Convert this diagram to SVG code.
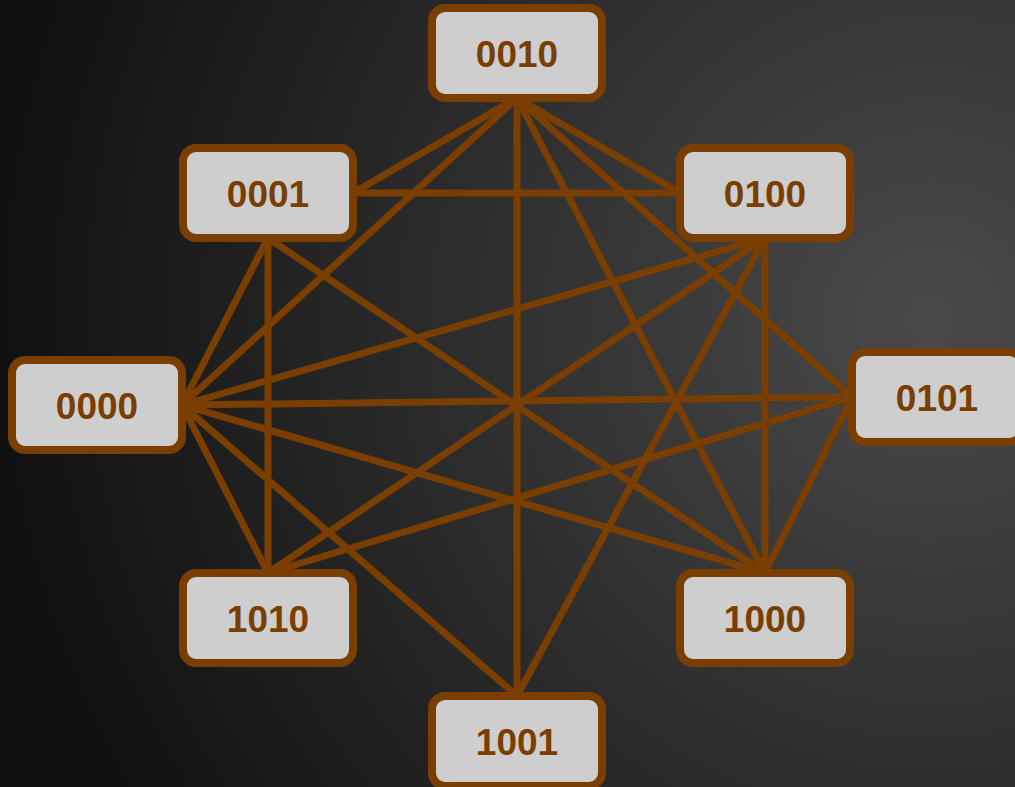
<svg xmlns="http://www.w3.org/2000/svg" width="1015" height="787" viewBox="0 0 1015 787">
  <defs>
    <radialGradient id="bg" gradientUnits="userSpaceOnUse" cx="930" cy="320" r="950">
      <stop offset="0" stop-color="#4a4a4a"/>
      <stop offset="1" stop-color="#101010"/>
    </radialGradient>
  </defs>
  <style>
    .edge { stroke: #7a3f00; stroke-width: 7; fill: none; }
    .box { fill: #cecece; stroke: #7a3f00; stroke-width: 8; }
    .label { font-family: "Liberation Sans", Arial, sans-serif; font-weight: bold; font-size: 37px; fill: #7a3f00; text-anchor: middle; }
  </style>
  <rect x="0" y="0" width="1015" height="787" fill="url(#bg)"/>
  <g id="connectors">
    <line class="edge" x1="517" y1="98" x2="353" y2="193"/>
    <line class="edge" x1="353" y1="193" x2="680" y2="193"/>
    <line class="edge" x1="517" y1="98" x2="182" y2="405"/>
    <line class="edge" x1="517" y1="98" x2="517" y2="696"/>
    <line class="edge" x1="517" y1="98" x2="680" y2="193"/>
    <line class="edge" x1="517" y1="98" x2="852" y2="397"/>
    <line class="edge" x1="517" y1="98" x2="765" y2="573"/>
    <line class="edge" x1="268" y1="238" x2="268" y2="573"/>
    <line class="edge" x1="268" y1="238" x2="182" y2="405"/>
    <line class="edge" x1="268" y1="238" x2="765" y2="573"/>
    <line class="edge" x1="765" y1="238" x2="182" y2="405"/>
    <line class="edge" x1="765" y1="238" x2="268" y2="573"/>
    <line class="edge" x1="765" y1="238" x2="517" y2="696"/>
    <line class="edge" x1="765" y1="238" x2="765" y2="573"/>
    <line class="edge" x1="182" y1="405" x2="852" y2="397"/>
    <line class="edge" x1="182" y1="405" x2="765" y2="573"/>
    <line class="edge" x1="182" y1="405" x2="268" y2="573"/>
    <line class="edge" x1="182" y1="405" x2="517" y2="696"/>
    <line class="edge" x1="852" y1="397" x2="268" y2="573"/>
    <line class="edge" x1="852" y1="397" x2="765" y2="573"/>
  </g>
  <g id="n0010">
    <rect class="box" x="432" y="8" width="170" height="90" rx="13"/>
    <text class="label" x="517" y="67">0010</text>
  </g>
  <g id="n0001">
    <rect class="box" x="183" y="148" width="170" height="90" rx="13"/>
    <text class="label" x="268" y="207">0001</text>
  </g>
  <g id="n0100">
    <rect class="box" x="680" y="148" width="170" height="90" rx="13"/>
    <text class="label" x="765" y="207">0100</text>
  </g>
  <g id="n0000">
    <rect class="box" x="12" y="360" width="170" height="90" rx="13"/>
    <text class="label" x="97" y="419">0000</text>
  </g>
  <g id="n0101">
    <rect class="box" x="852" y="352" width="170" height="90" rx="13"/>
    <text class="label" x="937" y="411">0101</text>
  </g>
  <g id="n1010">
    <rect class="box" x="183" y="573" width="170" height="90" rx="13"/>
    <text class="label" x="268" y="632">1010</text>
  </g>
  <g id="n1000">
    <rect class="box" x="680" y="573" width="170" height="90" rx="13"/>
    <text class="label" x="765" y="632">1000</text>
  </g>
  <g id="n1001">
    <rect class="box" x="432" y="696" width="170" height="90" rx="13"/>
    <text class="label" x="517" y="755">1001</text>
  </g>
</svg>
